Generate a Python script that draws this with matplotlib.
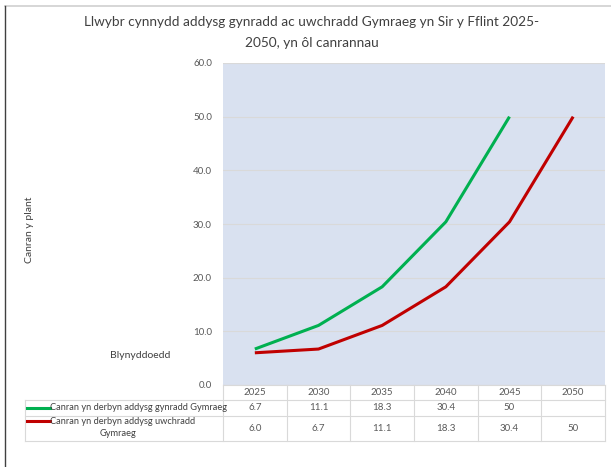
import matplotlib.pyplot as plt
import matplotlib.transforms as mtransforms
from matplotlib.lines import Line2D

# data
years = ['2025', '2030', '2035', '2040', '2045', '2050']
primary = [6.7, 11.1, 18.3, 30.4, 50, None]
secondary = [6.0, 6.7, 11.1, 18.3, 30.4, 50]
primary_txt = ['6.7', '11.1', '18.3', '30.4', '50', '']
secondary_txt = ['6.0', '6.7', '11.1', '18.3', '30.4', '50']
name_primary = 'Canran yn derbyn addysg gynradd Gymraeg'
name_secondary = 'Canran yn derbyn addysg uwchradd\nGymraeg'

W, H = 611, 467
fig = plt.figure(figsize=(W / 100, H / 100), dpi=100)
plt.rcParams['font.family'] = ['Lato', 'DejaVu Sans']

text_col = '#595959'
grid_col = '#d9d9d9'
green = '#00b050'
red = '#c00000'

# chart border (top and left visible)
fig.add_artist(Line2D([5 / W, 1], [1 - 6 / H, 1 - 6 / H], color='#d0d0d0', lw=1.2))
fig.add_artist(Line2D([5 / W, 5 / W], [0, 1 - 6 / H], color='#404040', lw=1.0))

fig.text(312 / W, 1 - 22 / H, 'Llwybr cynnydd addysg gynradd ac uwchradd Gymraeg yn Sir y Fflint 2025-',
         ha='center', va='center', fontsize=9.8, color='#404040')
fig.text(312 / W, 1 - 43 / H, '2050, yn ôl canrannau',
         ha='center', va='center', fontsize=9.8, color='#404040')

left, right, top, bottom = 223, 605, 63, 385
ax = fig.add_axes([left / W, 1 - bottom / H, (right - left) / W, (bottom - top) / H])
ax.set_facecolor('#d9e1f0')
x = list(range(len(years)))
ax.plot(x[:5], primary[:5], color=green, lw=2.2, solid_capstyle='butt')
ax.plot(x, secondary, color=red, lw=2.2, solid_capstyle='butt')
ax.set_xlim(-0.5, len(years) - 0.5)
ax.set_ylim(0, 60)
ax.set_yticks(range(0, 61, 10))
ax.set_yticklabels([f'{v:.1f}' for v in range(0, 61, 10)], fontsize=7, color=text_col)
ax.set_xticks([])
ax.tick_params(axis='y', length=0, pad=8)
ax.grid(axis='y', color=grid_col, lw=0.8)
ax.set_axisbelow(True)
for s in ax.spines.values():
    s.set_visible(False)

fig.text(30 / W, 1 - 230 / H, 'Canran y plant', rotation=90, ha='center', va='center',
         fontsize=7.5, color='#404040')
fig.text(140 / W, 1 - 356 / H, 'Blynyddoedd', ha='center', va='center',
         fontsize=7.5, color='#404040')

# data table below the plot
tr = mtransforms.blended_transform_factory(ax.transData, fig.transFigure)
fy = lambda py: 1 - py / H
row_edges = [385, 400, 416, 441]
x_left_fig = 25 / W
xl = ax.transData.inverted().transform(fig.transFigure.transform((x_left_fig, 0)))[0]
kw = dict(color=grid_col, lw=0.8, transform=tr, clip_on=False)

# horizontal lines
fig.add_artist(Line2D([-0.5, 5.5], [fy(row_edges[0])] * 2, **kw))
for r in row_edges[1:]:
    fig.add_artist(Line2D([xl, 5.5], [fy(r)] * 2, **kw))
# vertical lines
for i in range(len(years) + 1):
    fig.add_artist(Line2D([i - 0.5] * 2, [fy(row_edges[0]), fy(row_edges[-1])], **kw))
fig.add_artist(Line2D([xl] * 2, [fy(row_edges[1]), fy(row_edges[-1])], **kw))

for i, yr in enumerate(years):
    fig.text(i, fy(392.5), yr, transform=tr, ha='center', va='center', fontsize=7, color=text_col)
    fig.text(i, fy(408), primary_txt[i], transform=tr, ha='center', va='center', fontsize=7, color=text_col)
    fig.text(i, fy(428.5), secondary_txt[i], transform=tr, ha='center', va='center', fontsize=7, color=text_col)

fig.add_artist(Line2D([27 / W, 50 / W], [fy(408)] * 2, color=green, lw=2.2))
fig.add_artist(Line2D([27 / W, 50 / W], [fy(421)] * 2, color=red, lw=2.2))
fig.text(50 / W, fy(408), name_primary, ha='left', va='center', fontsize=6.7, color='#404040')
fig.text(50 / W, fy(421), name_secondary.split('\n')[0], ha='left', va='center', fontsize=6.7, color='#404040')
fig.text(118 / W, fy(434), name_secondary.split('\n')[1], ha='center', va='center', fontsize=6.7, color='#404040')

fig.savefig('out.png', dpi=100)
